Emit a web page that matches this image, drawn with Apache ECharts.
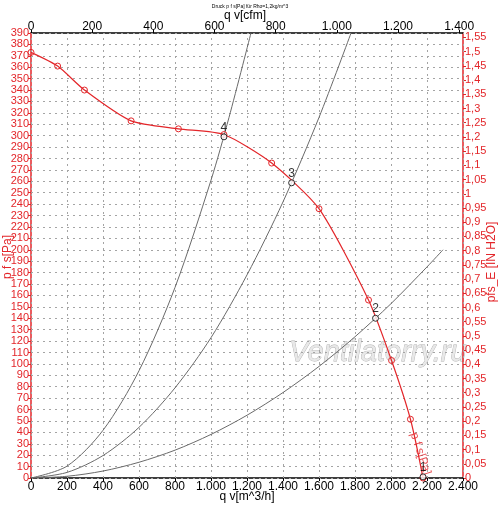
<!DOCTYPE html>
<html>
<head>
<meta charset="utf-8">
<script src="https://cdn.jsdelivr.net/npm/echarts@6/dist/echarts.min.js"></script>
<style>
html, body { margin: 0; padding: 0; background: #fff; }
#chart { width: 500px; height: 507px; }
</style>
</head>
<body>
<div id="chart"></div>
<script>
// Kennlinie p f s (Pa) ueber q v (m^3/h), Messpunkte
const fanFlow = [0, 148, 297, 556, 819, 1072, 1337, 1600, 1875, 2003, 2108, 2178];
const fanPressure = [373, 361, 340, 313, 306, 301, 276, 236, 156, 103, 51.5, 0];

// Anlagenkennlinien
const sys4Flow = [0, 200, 400, 600, 800, 1000, 1100, 1222];
const sys4Pressure = [0, 10.4, 41.8, 94, 167, 261, 316, 390];
const sys3Flow = [0, 200, 400, 600, 800, 1000, 1200, 1400, 1600, 1778];
const sys3Pressure = [0, 4.9, 19.7, 44.4, 79, 123, 178, 242, 316, 390];
const sys2Flow = [0, 200, 400, 600, 800, 1000, 1200, 1400, 1600, 1800, 2000, 2200, 2289];
const sys2Pressure = [0, 1.5, 6.1, 13.8, 24.4, 38.2, 55, 74.9, 97.8, 123.8, 152.8, 185, 200];

// Betriebspunkte
const opNames = ['1', '2', '3', '4'];
const opFlow = [2178, 1914, 1448, 1072];
const opPressure = [1, 140, 258.7, 299];

// Achsen
const flowMax = 2400;          // m^3/h
const pressureMax = 390;       // Pa
const cfmPerM3h = 0.58858;
const paPerInH2O = 249.089;

const RED = '#e3262a';
const FONT = '"Liberation Sans Narrow", "Liberation Sans", Arial, sans-serif';
const gridStyle = () => ({ color: '#a4a4a4', width: 1, type: [2, 4] });

const pairs = (xs, ys) => xs.map((x, i) => [x, ys[i]]);
const dotFmt = v => String(Math.round(v)).replace(/\B(?=(\d{3})+(?!\d))/g, '.');
const commaFmt = v => String(+v.toFixed(2)).replace('.', ',');

const chart = echarts.init(document.getElementById('chart'));

const sysLine = (flow, pressure) => ({
    type: 'line',
    data: pairs(flow, pressure),
    smooth: 0.3,
    showSymbol: false,
    silent: true,
    lineStyle: { color: '#6a6a6a', width: 1 },
    z: 2
});

// Hilfsachsen nur fuer das Raster (lange Ticks nach innen)
const gridX = {
    type: 'value', position: 'bottom', min: 0, max: flowMax, interval: 200,
    axisLine: { show: false }, axisLabel: { show: false }, splitLine: { show: false },
    axisTick: { show: true, inside: true, length: 445, lineStyle: gridStyle() }
};
const gridY = {
    type: 'value', position: 'left', min: 0, max: pressureMax, interval: 10,
    axisLine: { show: false }, axisLabel: { show: false }, splitLine: { show: false },
    axisTick: { show: true, inside: true, length: 432, lineStyle: gridStyle() }
};

chart.setOption({
    animation: false,
    backgroundColor: '#fff',
    textStyle: { fontFamily: FONT },
    grid: { left: 31, right: 37, top: 33, bottom: 29 },
    xAxis: [{
        type: 'value', position: 'bottom', min: 0, max: flowMax, interval: 200,
        axisLine: { onZero: false, lineStyle: { color: '#000', width: 1.5 } },
        axisTick: { show: true, length: 3, lineStyle: { color: '#000' } },
        axisLabel: { color: '#000', fontSize: 12, margin: 3, formatter: dotFmt, showMinLabel: true, showMaxLabel: true },
        splitLine: { show: false }
    }, {
        type: 'value', position: 'top', min: 0, max: flowMax * cfmPerM3h, interval: 200,
        axisLine: { onZero: false, lineStyle: { color: '#000', width: 1.5 } },
        axisTick: { show: true, length: 3, lineStyle: { color: '#000' } },
        axisLabel: { color: '#000', fontSize: 12, margin: 0, formatter: dotFmt, showMinLabel: true, showMaxLabel: false },
        splitLine: { show: false }
    }, gridX],
    yAxis: [{
        type: 'value', position: 'left', min: 0, max: pressureMax, interval: 10,
        axisLine: { show: true, onZero: false, lineStyle: { color: RED, width: 1.5 } },
        axisTick: { show: true, length: 3, lineStyle: { color: RED } },
        axisLabel: { color: RED, fontSize: 11, margin: 2, interval: 0, showMinLabel: true, showMaxLabel: true, hideOverlap: false },
        splitLine: { show: false }
    }, {
        type: 'value', position: 'right', min: 0, max: pressureMax / paPerInH2O, interval: 0.05,
        axisLine: { show: true, onZero: false, lineStyle: { color: RED, width: 1.5 } },
        axisTick: { show: true, length: 3, lineStyle: { color: RED } },
        axisLabel: { color: RED, fontSize: 11, margin: 2, interval: 0, formatter: commaFmt, showMinLabel: true, showMaxLabel: false },
        splitLine: { show: false }
    }, gridY],
    graphic: [
        { type: 'text', left: 'center', top: 4,
          style: { text: 'Druck p f s[Pa] für Rho=1,2kg/m^3', fontSize: 5, fill: '#000', fontFamily: FONT } },
        { type: 'text', x: 245, y: 16,
          style: { text: 'q v[cfm]', fontSize: 12, fill: '#000', align: 'center', verticalAlign: 'middle', fontFamily: FONT } },
        { type: 'text', x: 247, y: 497,
          style: { text: 'q v[m^3/h]', fontSize: 12, fill: '#000', align: 'center', verticalAlign: 'middle', fontFamily: FONT } },
        { type: 'text', x: 8, y: 257, rotation: Math.PI / 2,
          style: { text: 'p f s[Pa]', fontSize: 12, fill: RED, align: 'center', verticalAlign: 'middle', fontFamily: FONT } },
        { type: 'text', x: 492, y: 262, rotation: Math.PI / 2,
          style: { text: 'pfs_E [IN H2O]', fontSize: 12, fill: RED, align: 'center', verticalAlign: 'middle', fontFamily: FONT } },
        { type: 'text', x: 378, y: 353, z: 0, silent: true,
          style: { text: 'Ventilatorry.ru', fontSize: 29, fontStyle: 'italic', fontFamily: '"Liberation Sans", Arial, sans-serif',
                   fill: '#e8e8e8', stroke: '#b0b0b0', lineWidth: 0.8, align: 'center', verticalAlign: 'middle' } }
    ],
    series: [
        sysLine(sys4Flow, sys4Pressure),
        sysLine(sys3Flow, sys3Pressure),
        sysLine(sys2Flow, sys2Pressure),
        {
            type: 'line',
            data: pairs(fanFlow, fanPressure),
            smooth: 0.22,
            symbol: 'circle',
            symbolSize: 6,
            itemStyle: { color: 'rgba(255,255,255,0)', borderColor: RED, borderWidth: 1 },
            lineStyle: { color: RED, width: 1.2 },
            z: 3
        },
        {
            type: 'scatter',
            data: [[2150, 28]],
            symbolSize: 0,
            silent: true,
            label: { show: true, formatter: 'p f s[Pa]', rotate: -72, color: RED, fontSize: 12, position: 'inside', offset: [8, 0] },
            z: 4
        },
        {
            type: 'scatter',
            data: opFlow.map((q, i) => ({ value: [q, opPressure[i]], name: opNames[i] })),
            symbol: 'circle',
            symbolSize: 6,
            itemStyle: { color: '#fff', borderColor: '#000', borderWidth: 1 },
            label: { show: true, formatter: '{b}', position: 'top', distance: 0, color: '#000', fontSize: 12 },
            z: 5
        }
    ]
});
</script>
</body>
</html>
